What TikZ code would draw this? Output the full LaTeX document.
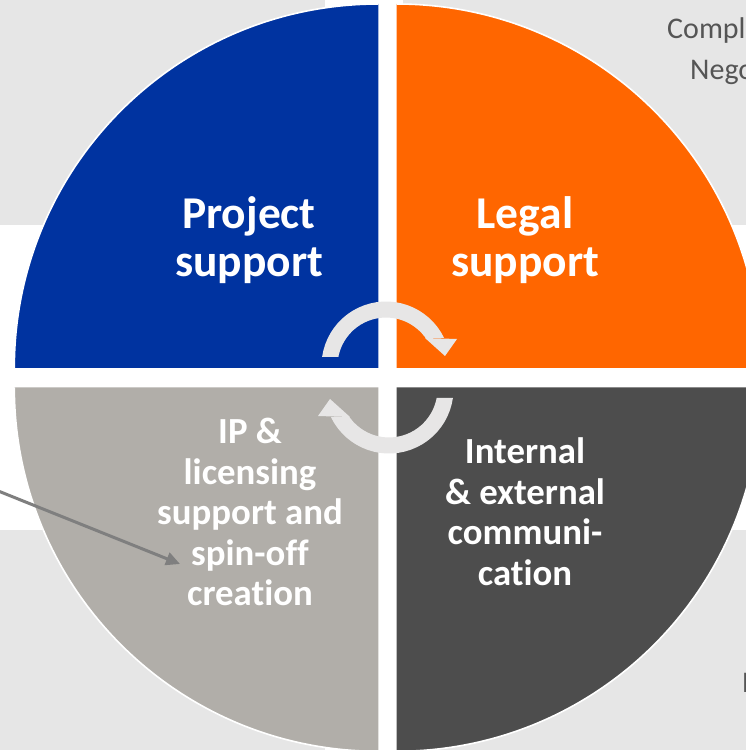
\documentclass[tikz,border=0pt]{standalone}
\usepackage{fontspec}
\setmainfont{Carlito}[Ligatures=NoCommon]
\usetikzlibrary{arrows.meta,calc}
\definecolor{bgGrey}{HTML}{E6E6E6}
\definecolor{qBlue}{HTML}{0033A0}
\definecolor{qOrange}{HTML}{FF6600}
\definecolor{qGrey}{HTML}{B1AEA9}
\definecolor{qDark}{HTML}{4D4D4D}
\definecolor{cycGrey}{HTML}{E7E6E6}
\definecolor{ptrGrey}{HTML}{7F7F7F}
\definecolor{txtGrey}{HTML}{555555}
\begin{document}
\begin{tikzpicture}[x=1pt,y=1pt,
  rim/.style={draw=white, line width=1.6pt},
  biglabel/.style={text=white, font=\fontsize{45.5}{48}\selectfont\bfseries, align=center, inner sep=0pt},
  smalllabel/.style={text=white, font=\fontsize{36.8}{40.5}\selectfont\bfseries, align=center, inner sep=0pt},
  sidetext/.style={text=txtGrey, font=\fontsize{30}{42}\selectfont, inner sep=0pt, anchor=base west},
  cycbody/.style={draw=cycGrey, line width=16pt},
  pointer/.style={draw=ptrGrey, line width=3pt, -{Triangle[length=14pt,width=13pt]}}]
\useasboundingbox (0,0) rectangle (746,750);
\clip (0,0) rectangle (746,750);
% background
\fill[white] (0,0) rectangle (746,750);
\fill[bgGrey] (0,525) rectangle (325,750);
\fill[bgGrey] (403,525) rectangle (746,750);
\fill[bgGrey] (0,0) rectangle (325,220);
\fill[bgGrey] (403,0) rectangle (746,220);
% side texts (cut by the frame)
\node[sidetext] (t1) at (667,711) {Compl};
\node[sidetext] (t2) at (690,670) {Nego};
\node[sidetext] (t3) at (742,57) {N};
% quadrants
\coordinate (cb) at (378.3,382);
\coordinate (co) at (396.7,382);
\coordinate (cg) at (378.3,362.7);
\coordinate (cd) at (396.7,362.7);
\fill[qBlue] (cb) -- ++(180:364) arc[start angle=180,end angle=90,radius=364] -- cycle;
\draw[rim] ($(cb)+(180:364)$) arc[start angle=180,end angle=90,radius=364];
\fill[qOrange] (co) -- ++(90:364) arc[start angle=90,end angle=0,radius=364] -- cycle;
\draw[rim] ($(co)+(90:364)$) arc[start angle=90,end angle=0,radius=364];
\fill[qGrey] (cg) -- ++(270:364) arc[start angle=270,end angle=180,radius=364] -- cycle;
\draw[rim] ($(cg)+(270:364)$) arc[start angle=270,end angle=180,radius=364];
\fill[qDark] (cd) -- ++(0:364) arc[start angle=360,end angle=270,radius=364] -- cycle;
\draw[rim] ($(cd)+(0:364)$) arc[start angle=360,end angle=270,radius=364];
% cycle arrows
\coordinate (c1) at (386,384);
\coordinate (c2) at (389,361);
\begin{scope}
\clip (300,393) -- (386,393) -- (386,412) -- (480,412) -- (480,480) -- (300,480) -- cycle;
\draw[cycbody] ($(c1)+(200:56.5)$) arc[start angle=200,end angle=-20,radius=56.5];
\end{scope}
\fill[cycGrey] (425,412) -- (457,411) -- (445,394) -- cycle;
\begin{scope}
\clip (475,352) -- (389,352) -- (389,333) -- (295,333) -- (295,265) -- (475,265) -- cycle;
\draw[cycbody] ($(c2)+(20:56.5)$) arc[start angle=20,end angle=-200,radius=56.5];
\end{scope}
\fill[cycGrey] (350,333) -- (318,334) -- (330,351) -- cycle;
% labels
\node[biglabel] (proj) at (249,509.8) {Project\\support};
\node[biglabel] (legal) at (525,509.8) {Legal\\support};
\node[smalllabel] (ip) at (250,237.9) {IP \&\\licensing\\support and\\spin-off\\creation};
\node[smalllabel] (comm) at (525,238.5) {Internal\\\& external\\communi-\\cation};
% pointer
\coordinate (ps) at (-5,260.3);
\coordinate (pt) at (180,186);
\draw[pointer] (ps) -- (pt);
\end{tikzpicture}
\end{document}
